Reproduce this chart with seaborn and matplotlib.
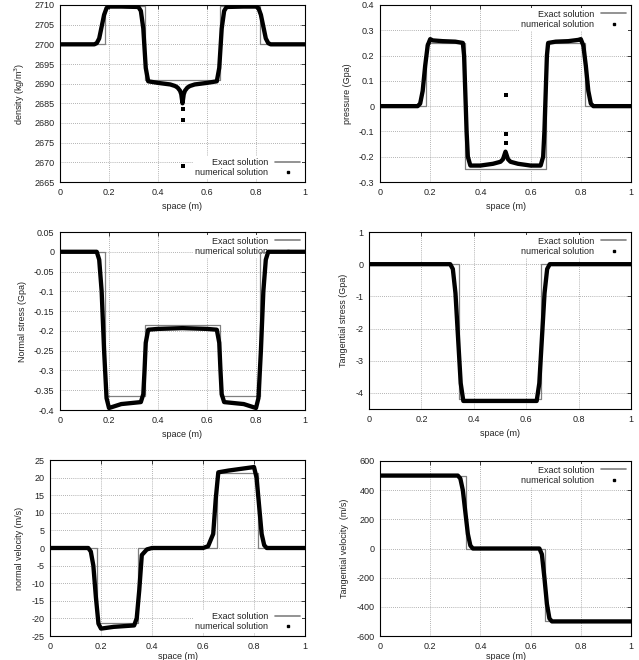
#!/usr/bin/env python

import numpy as np
import pandas as pd
import matplotlib
matplotlib.use("Agg")
import matplotlib.pyplot as plt
from matplotlib.lines import Line2D
from matplotlib.ticker import FormatStrFormatter, MultipleLocator
import seaborn as sns

# ---- density ----
dens_exact_x = [0, 0.185, 0.185, 0.345, 0.345, 0.655, 0.655, 0.815, 0.815, 1]
dens_exact_y = [2700, 2700, 2709.7, 2709.7, 2690.9, 2690.9, 2709.7, 2709.7, 2700, 2700]
dens_num_x = [0, 0.14, 0.15, 0.16, 0.17, 0.18, 0.19, 0.2, 0.25, 0.32, 0.33, 0.34, 0.345, 0.35, 0.36,
              0.4, 0.45, 0.47, 0.48, 0.49, 0.495, 0.5, 0.505, 0.51, 0.52, 0.53, 0.55, 0.6, 0.64,
              0.65, 0.655, 0.66, 0.67, 0.68, 0.75, 0.8, 0.81, 0.82, 0.83, 0.84, 0.85, 0.86, 1]
dens_num_y = [2700, 2700, 2700.3, 2701.5, 2704.5, 2707.5, 2709.2, 2709.6, 2709.6, 2709.5, 2708.5,
              2704, 2699, 2694, 2690.6, 2690.2, 2689.8, 2689.4, 2689, 2688.2, 2687.3, 2685,
              2687.3, 2688.2, 2689, 2689.4, 2689.8, 2690.2, 2690.6, 2694, 2699, 2704, 2708.5,
              2709.5, 2709.6, 2709.6, 2709.2, 2707.5, 2704.5, 2701.5, 2700.3, 2700, 2700]
dens_pts_x = [0.5, 0.5, 0.5]
dens_pts_y = [2683.5, 2680.7, 2669]

# ---- pressure ----
pres_exact_x = [0, 0.185, 0.185, 0.34, 0.34, 0.66, 0.66, 0.815, 0.815, 1]
pres_exact_y = [0, 0, 0.25, 0.25, -0.25, -0.25, 0.25, 0.25, 0, 0]
pres_num_x = [0, 0.15, 0.16, 0.17, 0.18, 0.19, 0.2, 0.21, 0.25, 0.3, 0.33, 0.335, 0.34, 0.345, 0.35,
              0.36, 0.4, 0.45, 0.48, 0.49, 0.5, 0.51, 0.52, 0.55, 0.6, 0.64, 0.65, 0.655, 0.66,
              0.665, 0.67, 0.7, 0.75, 0.79, 0.8, 0.81, 0.82, 0.83, 0.84, 0.85, 1]
pres_num_y = [0, 0, 0.01, 0.06, 0.16, 0.24, 0.265, 0.26, 0.257, 0.255, 0.25, 0.2, 0.05, -0.1, -0.2,
              -0.235, -0.235, -0.228, -0.22, -0.21, -0.18, -0.21, -0.22, -0.228, -0.235, -0.235,
              -0.2, -0.1, 0.05, 0.2, 0.25, 0.255, 0.257, 0.262, 0.265, 0.24, 0.16, 0.06, 0.01, 0, 0]
pres_pts_x = [0.5, 0.5, 0.5]
pres_pts_y = [-0.145, -0.11, 0.045]

# ---- normal stress ----
nstr_exact_x = [0, 0.185, 0.185, 0.345, 0.345, 0.655, 0.655, 0.815, 0.815, 1]
nstr_exact_y = [0, 0, -0.365, -0.365, -0.184, -0.184, -0.365, -0.365, 0, 0]
nstr_num_x = [0, 0.15, 0.16, 0.17, 0.18, 0.19, 0.2, 0.25, 0.33, 0.34, 0.345, 0.35, 0.36, 0.4, 0.5,
              0.6, 0.64, 0.65, 0.655, 0.66, 0.67, 0.75, 0.8, 0.81, 0.82, 0.83, 0.84, 0.85, 1]
nstr_num_y = [0, 0, -0.02, -0.1, -0.25, -0.37, -0.395, -0.385, -0.38, -0.36, -0.3, -0.23, -0.197,
              -0.195, -0.193, -0.195, -0.197, -0.23, -0.3, -0.36, -0.38, -0.385, -0.395, -0.37,
              -0.25, -0.1, -0.02, 0, 0]

# ---- tangential stress ----
tstr_exact_x = [0, 0.344, 0.344, 0.656, 0.656, 1]
tstr_exact_y = [0, 0, -4.2, -4.2, 0, 0]
tstr_num_x = [0, 0.31, 0.32, 0.33, 0.34, 0.35, 0.36, 0.4, 0.5, 0.6, 0.64, 0.65, 0.66, 0.67, 0.68, 0.69, 1]
tstr_num_y = [0, 0, -0.15, -0.9, -2.3, -3.7, -4.25, -4.25, -4.25, -4.25, -4.25, -3.7, -2.3, -0.9,
              -0.15, 0, 0]

# ---- normal velocity ----
nvel_exact_x = [0, 0.185, 0.185, 0.345, 0.345, 0.655, 0.655, 0.815, 0.815, 1]
nvel_exact_y = [0, 0, -21.2, -21.2, 0, 0, 21.3, 21.3, 0, 0]
nvel_num_x = [0, 0.15, 0.16, 0.17, 0.18, 0.19, 0.2, 0.25, 0.33, 0.34, 0.35, 0.36, 0.38, 0.4, 0.6,
              0.62, 0.64, 0.65, 0.66, 0.7, 0.75, 0.8, 0.81, 0.82, 0.83, 0.84, 0.85, 1]
nvel_num_y = [0, 0, -1, -5, -14, -21.5, -22.9, -22.4, -22, -20, -12, -2, -0.4, 0, 0,
              0.5, 4, 14, 21.5, 22, 22.5, 23, 20, 12, 4, 0.8, 0, 0]

# ---- tangential velocity ----
tvel_exact_x = [0, 0.342, 0.342, 0.656, 0.656, 1]
tvel_exact_y = [500, 500, 0, 0, -500, -500]
tvel_num_x = [0, 0.31, 0.32, 0.33, 0.34, 0.35, 0.36, 0.37, 0.4, 0.6, 0.635, 0.645, 0.655, 0.665,
              0.675, 0.685, 1]
tvel_num_y = [500, 500, 480, 400, 250, 100, 20, 0, 0, 0, 0, -40, -200, -380, -480, -500, -500]

EXACT_COLOR = "#808080"
PX_W, PX_H = 639, 660


def panel(rect, ex_x, ex_y, num_x, num_y, ylim, ystep, ylabel, legend_loc,
          pts_x=None, pts_y=None, xlabelpad=4):
    l, t, r, b = rect
    ax = fig.add_axes([l / PX_W, 1 - b / PX_H, (r - l) / PX_W, (b - t) / PX_H])
    sns.lineplot(x=ex_x, y=ex_y, ax=ax, color=EXACT_COLOR, linewidth=0.9,
                 estimator=None, sort=False, zorder=3)
    sns.lineplot(x=num_x, y=num_y, ax=ax, color="black", linewidth=3.1,
                 estimator=None, sort=False, zorder=4)
    if pts_x is not None:
        sns.scatterplot(x=pts_x, y=pts_y, ax=ax, color="black", marker="s", s=5,
                        linewidth=0, zorder=5)
    ax.set_xlim(0, 1)
    ax.set_ylim(*ylim)
    ax.xaxis.set_major_locator(MultipleLocator(0.2))
    ax.yaxis.set_major_locator(MultipleLocator(ystep))
    ax.xaxis.set_major_formatter(FormatStrFormatter("%g"))
    ax.yaxis.set_major_formatter(FormatStrFormatter("%g"))
    ax.grid(True, linestyle=(0, (1, 1.5)), color="#9a9a9a", linewidth=0.6)
    ax.set_axisbelow(True)
    ax.tick_params(direction="in", length=3, width=0.6, top=True, right=True,
                   labelsize=6.5, pad=4, colors="#222222")
    for s in ax.spines.values():
        s.set_color("black")
        s.set_linewidth(0.8)
    ax.set_xlabel("space (m)", fontsize=6.5, labelpad=xlabelpad, color="#222222")
    ax.set_ylabel(ylabel, fontsize=6.5, labelpad=5, color="#222222")
    handles = [Line2D([], [], color=EXACT_COLOR, linewidth=1.2),
               Line2D([], [], color="black", marker="s", markersize=2, linestyle="none")]
    leg = ax.legend(handles, ["Exact solution", "numerical solution"], loc=legend_loc,
                    markerfirst=False, fontsize=6.5, frameon=True, framealpha=1,
                    facecolor="white", edgecolor="none", handlelength=2.8,
                    labelspacing=0.15, borderpad=0.2, borderaxespad=0.3,
                    handletextpad=0.8, fancybox=False)
    leg.set_zorder(2)
    for txt in leg.get_texts():
        txt.set_color("#222222")
    return ax


sns.set_theme(style="white")
plt.rcParams["font.family"] = ["Liberation Sans", "DejaVu Sans"]

fig = plt.figure(figsize=(PX_W / 100, PX_H / 100), dpi=100)

panel((60, 5, 305, 182), dens_exact_x, dens_exact_y, dens_num_x, dens_num_y,
      (2665, 2710), 5, "density (kg/m$^3$)", "lower right", dens_pts_x, dens_pts_y)
panel((380, 5, 631, 182), pres_exact_x, pres_exact_y, pres_num_x, pres_num_y,
      (-0.3, 0.4), 0.1, "pressure (Gpa)", "upper right", pres_pts_x, pres_pts_y)
panel((60, 232, 305, 410), nstr_exact_x, nstr_exact_y, nstr_num_x, nstr_num_y,
      (-0.4, 0.05), 0.05, "Normal stress (Gpa)", "upper right")
panel((369, 232, 631, 409), tstr_exact_x, tstr_exact_y, tstr_num_x, tstr_num_y,
      (-4.5, 1), 1, "Tangential stress (Gpa)", "upper right")
panel((50, 460, 305, 636), nvel_exact_x, nvel_exact_y, nvel_num_x, nvel_num_y,
      (-25, 25), 5, "normal velocity (m/s)", "lower right", xlabelpad=1)
panel((380, 461, 631, 636), tvel_exact_x, tvel_exact_y, tvel_num_x, tvel_num_y,
      (-600, 600), 200, "Tangential velocity  (m/s)", "upper right", xlabelpad=1)

fig.savefig("out.png", dpi=100)
plt.close(fig)
